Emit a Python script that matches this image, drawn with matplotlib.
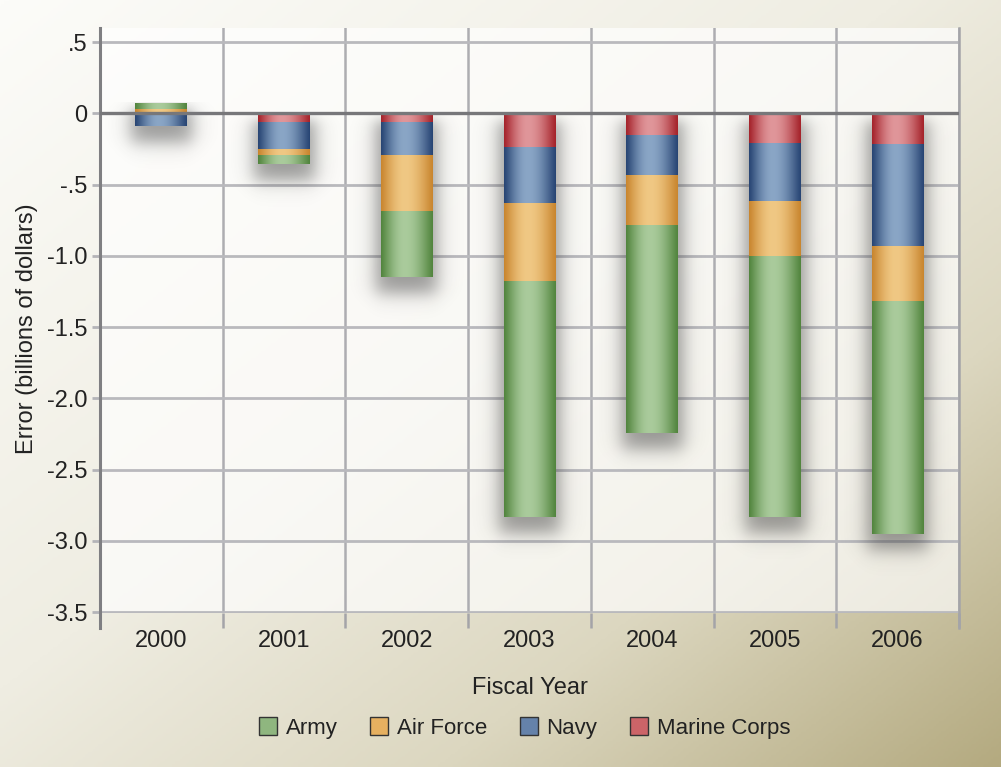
import numpy as np
import matplotlib
matplotlib.use('Agg')
import matplotlib.pyplot as plt
from matplotlib.patches import Patch
from matplotlib.colors import to_rgb, LinearSegmentedColormap

plt.rcParams['font.family'] = ['Liberation Sans', 'DejaVu Sans']

years = ['2000', '2001', '2002', '2003', '2004', '2005', '2006']
# billions of dollars
army = [0.042, -0.063, -0.46, -1.65, -1.46, -1.83, -1.63]
air_force = [0.03, -0.042, -0.39, -0.55, -0.345, -0.38, -0.385]
navy = [-0.089, -0.185, -0.225, -0.39, -0.275, -0.41, -0.72]
marine_corps = [0.0, -0.065, -0.07, -0.24, -0.16, -0.21, -0.215]

y_ticks = [0.5, 0, -0.5, -1.0, -1.5, -2.0, -2.5, -3.0, -3.5]
y_tick_labels = ['.5', '0', '-.5', '-1.0', '-1.5', '-2.0', '-2.5', '-3.0', '-3.5']

# stacking order from zero outward
series = [
    ('Marine Corps', marine_corps, '#a5232b', '#e0969a', '#cc6468'),
    ('Navy', navy, '#284574', '#8aa6c6', '#6582aa'),
    ('Air Force', air_force, '#c9862f', '#f0c884', '#e6b060'),
    ('Army', army, '#52853e', '#aacb9c', '#8fb67f'),
]
legend_order = ['Army', 'Air Force', 'Navy', 'Marine Corps']

fig = plt.figure(figsize=(10.01, 7.67), dpi=100)

# figure background gradient
bg = fig.add_axes([0, 0, 1, 1], zorder=-10)
bg.axis('off')
gx, gy = np.meshgrid(np.linspace(0, 1, 400), np.linspace(0, 1, 300))
t = 0.5 * gx + 0.5 * gy
bg_cmap = LinearSegmentedColormap.from_list(
    'bg', [(0, '#fcfcf9'), (0.45, '#efede2'), (0.72, '#dcd7c0'), (1.0, '#b4aa80')])
bg.imshow(t, cmap=bg_cmap, aspect='auto', extent=[0, 1, 0, 1], origin='upper',
          vmin=0, vmax=1)
bg.set_xlim(0, 1)
bg.set_ylim(0, 1)

ax = fig.add_axes([100 / 1001, 1 - 613 / 767, 859 / 1001, 585 / 767])
ax.set_facecolor((1, 1, 1, 0.68))

x = np.arange(len(years))
width = 0.423
pos_base = np.zeros(len(years))
neg_base = np.zeros(len(years))

# horizontal gradient that gives the cylinder look
tt = np.linspace(0, 1, 80)
prof = np.where(tt < 0.46, np.sin(0.5 * np.pi * tt / 0.46),
                np.sin(0.5 * np.pi * (1 - tt) / 0.54)) ** 1.1

for name, vals, dark, light, mid in series:
    vals = np.array(vals)
    bottoms = np.where(vals >= 0, pos_base, neg_base)
    bars = ax.bar(x, vals, width, bottom=bottoms, color='none', edgecolor='none',
                  zorder=3)
    d = np.array(to_rgb(dark))
    l = np.array(to_rgb(light))
    img = d[None, :] + (l - d)[None, :] * prof[:, None]
    img = img[None, :, :]
    for r in bars.patches:
        if r.get_height() == 0:
            continue
        x0, y0 = r.get_x(), r.get_y()
        x1, y1 = x0 + r.get_width(), y0 + r.get_height()
        ax.imshow(img, extent=[x0, x1, min(y0, y1), max(y0, y1)], aspect='auto',
                  zorder=3, interpolation='bilinear')
    pos_base = pos_base + np.where(vals >= 0, vals, 0)
    neg_base = neg_base + np.where(vals < 0, vals, 0)


def sig(z):
    return 1 / (1 + np.exp(-z))


# soft drop shadows under each stack
for xc, top, bot in zip(x, pos_base, neg_base):
    xs = np.linspace(xc - 0.5, xc + 0.5, 140)
    ys = np.linspace(bot - 0.5, top, 220)
    X, Y = np.meshgrid(xs, ys)
    hw = width / 2 + 0.04
    sx = sig((X - (xc - hw)) / 0.045) * sig(-(X - (xc + hw)) / 0.045)
    sy = sig((Y - (bot - 0.12)) / 0.038) * sig(-(Y - (top - 0.05)) / 0.03)
    a = 0.5 * sx * sy
    rgba = np.zeros(a.shape + (4,))
    rgba[..., :3] = 0.22
    rgba[..., 3] = a
    ax.imshow(rgba, extent=[xs[0], xs[-1], ys[0], ys[-1]], origin='lower',
              aspect='auto', zorder=2.5, interpolation='bilinear')

ax.axhline(0, color='#77777a', lw=2.4, zorder=4)

ax.set_xlim(-0.5, len(years) - 0.5)
ax.set_ylim(-3.507, 0.6)
ax.set_yticks(y_ticks)
ax.set_yticklabels(y_tick_labels)
ax.set_xticks(x)
ax.set_xticklabels(years)
ax.set_xticks(np.arange(len(years) + 1) - 0.5, minor=True)

ax.grid(axis='y', which='major', color='#b9b9bd', lw=2.0, zorder=1)
ax.grid(axis='x', which='minor', color='#adadb1', lw=1.8, zorder=1)
ax.set_axisbelow(True)

ax.tick_params(axis='y', length=6, width=2, color='#b4b4b8', pad=3,
               labelsize=17, labelcolor='#222222')
ax.tick_params(axis='x', which='major', length=0, pad=12, labelsize=17,
               labelcolor='#222222')
ax.tick_params(axis='x', which='minor', length=11, width=1.8, color='#a4a4a8')

for s in ['top', 'bottom']:
    ax.spines[s].set_visible(False)
ax.spines['left'].set_color('#7f7f82')
ax.spines['left'].set_linewidth(2.2)
ax.spines['left'].set_bounds(-3.61, 0.6)
ax.spines['right'].set_color('#a4a4a8')
ax.spines['right'].set_linewidth(1.8)
ax.spines['right'].set_bounds(-3.61, 0.6)

ax.set_xlabel('Fiscal Year', fontsize=17, color='#222222')
ax.xaxis.set_label_coords(0.5, -0.109)
ax.set_ylabel('Error (billions of dollars)', fontsize=17, color='#222222')
ax.yaxis.set_label_coords(-0.072, 0.486)

mids = {name: mid for name, _, _, _, mid in series}
handles = [Patch(facecolor=mids[n], edgecolor='#333333', lw=1.0) for n in legend_order]
fig.legend(handles, legend_order, loc='center', bbox_to_anchor=(0.524, 1 - 728 / 767),
           ncol=4, frameon=False, fontsize=16, handlelength=0.82, handleheight=0.82,
           handletextpad=0.4, columnspacing=1.45, labelcolor='#222222')

fig.savefig('out.png', dpi=100)
